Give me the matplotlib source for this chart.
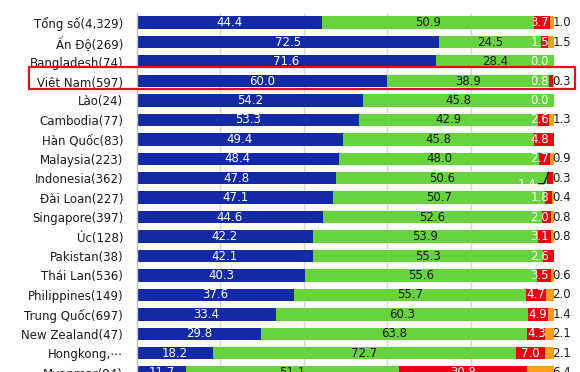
import numpy as np
import matplotlib.pyplot as plt
from matplotlib.patches import Rectangle

countries = ['Tổng số(4,329)', 'Ấn Độ(269)', 'Bangladesh(74)', 'Việt Nam(597)', 'Lào(24)',
             'Cambodia(77)', 'Hàn Quốc(83)', 'Malaysia(223)', 'Indonesia(362)', 'Đài Loan(227)',
             'Singapore(397)', 'Úc(128)', 'Pakistan(38)', 'Thái Lan(536)', 'Philippines(149)',
             'Trung Quốc(697)', 'New Zealand(47)', 'Hongkong,⋯', 'Myanmar(94)']
blue = [44.4, 72.5, 71.6, 60.0, 54.2, 53.3, 49.4, 48.4, 47.8, 47.1,
        44.6, 42.2, 42.1, 40.3, 37.6, 33.4, 29.8, 18.2, 11.7]
green = [50.9, 24.5, 28.4, 38.9, 45.8, 42.9, 45.8, 48.0, 50.6, 50.7,
         52.6, 53.9, 55.3, 55.6, 55.7, 60.3, 63.8, 72.7, 51.1]
red = [3.7, 1.5, 0.0, 0.8, 0.0, 2.6, 4.8, 2.7, 1.4, 1.8,
       2.0, 3.1, 2.6, 3.5, 4.7, 4.9, 4.3, 7.0, 30.8]
orange = [1.0, 1.5, np.nan, 0.3, np.nan, 1.3, np.nan, 0.9, 0.3, 0.4,
          0.8, 0.8, np.nan, 0.6, 2.0, 1.4, 2.1, 2.1, 6.4]

C_BLUE = '#1429A6'
C_GREEN = '#66D33F'
C_RED = '#E60012'
C_ORANGE = '#FF9F1C'

plt.rcParams['font.family'] = ['DejaVu Sans']

fig = plt.figure(figsize=(5.8, 3.72), dpi=100)
W, H = 580, 372
n = len(countries)
row = 19.44
ax_h = n * row
ax = fig.add_axes([137 / W, (H - 13 - ax_h) / H, 417 / W, ax_h / H])

y = np.arange(n)
b = np.array(blue)
g = np.array(green)
r = np.array(red)
o = np.nan_to_num(np.array(orange))
bh = 0.64

ax.barh(y, b, height=bh, color=C_BLUE, zorder=2)
ax.barh(y, g, left=b, height=bh, color=C_GREEN, zorder=2)
ax.barh(y, r, left=b + g, height=bh, color=C_RED, zorder=2)
ax.barh(y, o, left=b + g + r, height=bh, color=C_ORANGE, zorder=2)

fs = 8.5
for i in range(n):
    ax.text(b[i] / 2, i, f'{blue[i]:.1f}', ha='center', va='center', color='white', fontsize=fs, zorder=3)
    ax.text(b[i] + g[i] / 2, i, f'{green[i]:.1f}', ha='center', va='center', color='#1a1a1a', fontsize=fs, zorder=3)
    rc = min(b[i] + g[i] + r[i] / 2, 96.6)
    if countries[i].startswith('Indonesia'):
        # label pushed off the bar with a leader line
        ax.text(93.6, i + 0.3, f'{red[i]:.1f}', ha='center', va='center', color='white', fontsize=fs, zorder=3)
        ax.plot([96.3, 97.6, 98.7], [i + 0.28, i + 0.28, i - 0.3], color='black', lw=0.9, zorder=4)
    else:
        ax.text(rc, i, f'{red[i]:.1f}', ha='center', va='center', color='white', fontsize=fs, zorder=3)
    if not np.isnan(orange[i]):
        ax.text(99.6, i, f'{orange[i]:.1f}', ha='left', va='center', color='#1a1a1a', fontsize=fs, zorder=3,
                clip_on=False)

ax.set_xlim(0, 100)
ax.set_ylim(n - 0.5, -0.5)
ax.set_yticks(y)
ax.set_yticklabels(countries, fontsize=fs, color='#1a1a1a')
ax.tick_params(axis='y', length=0, pad=10)
ax.set_xticks([20, 40, 60, 80])
ax.tick_params(axis='x', length=0, labelbottom=False)
ax.grid(axis='x', color='#d9d9d9', lw=1, zorder=0)
ax.set_axisbelow(True)
for s in ['top', 'right', 'bottom']:
    ax.spines[s].set_visible(False)
ax.spines['left'].set_color('#bfbfbf')
ax.spines['left'].set_linewidth(1)

# highlight box round Việt Nam
fig.patches.append(Rectangle((29 / W, (H - 89) / H), (575 - 29) / W, 22 / H, transform=fig.transFigure,
                             fill=False, edgecolor='#E0101A', lw=1.6, zorder=10))

fig.savefig('out.png', dpi=100)
